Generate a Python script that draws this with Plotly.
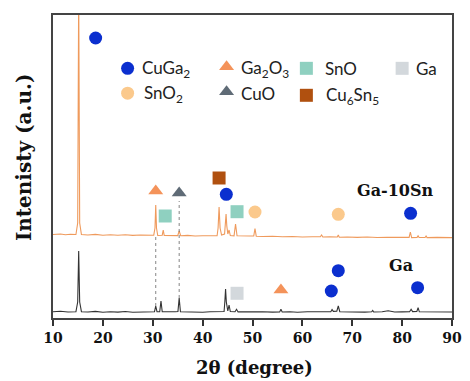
import plotly.graph_objects as go

# ---------------- data ----------------
# Ga-10Sn pattern (orange), 2theta (deg) and intensity (a.u.)
ga10sn_x = [10.0, 11.5, 12.5, 13.5, 14.6, 14.95, 15.15, 15.35, 15.7, 17, 18.5, 20, 21.5, 23, 24.5, 26,
            27.5, 29, 30.2, 30.45, 30.6, 30.75, 31.0, 31.9, 32.1, 32.3, 33.5, 35.0, 35.3, 35.6, 37,
            38.5, 40, 41.5, 42.9, 43.1, 43.3, 43.5, 43.8, 44.4, 44.55, 44.7, 44.85, 45.05, 45.3, 45.55,
            46.3, 46.6, 46.9, 48, 49.5, 50.25, 50.5, 50.75, 52, 54, 56, 58, 60, 62, 63.6, 63.85, 64.1,
            65.5, 67.0, 67.2, 67.4, 69, 71, 73, 75, 77, 79, 81.4, 81.65, 81.9, 83.0, 83.2, 83.4, 84.6,
            84.8, 85.0, 87, 90]
ga10sn_y = [83.5, 84.0, 83.2, 83.8, 83.5, 95, 330, 95, 83.5, 83.0, 83.6, 82.8, 83.3, 82.7, 83.2, 82.6,
            83.0, 82.5, 82.8, 90, 113, 90, 82.5, 82.8, 88, 82.6, 82.5, 82.4, 87, 82.3, 82.6,
            82.0, 82.3, 82.0, 82.3, 90, 111, 90, 83, 84, 92, 104, 92, 84, 88, 82.5,
            82.2, 94, 82.2, 81.8, 82.0, 82.0, 89.5, 81.8, 81.5, 81.8, 81.2, 81.5, 81.0, 81.3, 81.2, 83, 81.0,
            81.2, 81.0, 83, 80.8, 81.0, 80.6, 81.0, 80.5, 80.8, 80.4, 80.6, 86, 80.4, 80.6, 82.2, 80.5, 80.5,
            82, 80.4, 80.6, 80.4]

# Ga pattern (black)
ga_x = [10, 11.5, 13, 14.6, 14.95, 15.15, 15.35, 15.7, 17, 18.5, 20, 21.5, 23, 24.5, 26, 27.5, 29,
        30.35, 30.6, 30.85, 31.4, 31.65, 31.9, 33, 34.5, 35.05, 35.3, 35.55, 37, 38.5, 40, 41.5, 43,
        44.3, 44.45, 44.6, 44.75, 45.05, 45.3, 45.55, 46.5, 46.8, 47.1, 48.5, 50, 52, 54, 55.45, 55.7,
        55.95, 57.5, 59, 61, 63, 64.5, 65.7, 65.95, 66.2, 66.9, 67.2, 67.5, 69, 71, 72.5, 73.9, 74.1,
        74.3, 76, 77.2, 78.5, 80, 81.5, 81.8, 82.1, 82.95, 83.2, 83.45, 85, 87, 90]
ga_y = [6.2, 6.8, 6.0, 6.3, 16, 67, 16, 6.3, 6.0, 6.6, 5.8, 6.3, 5.9, 6.5, 5.8, 6.2, 6.0,
        6.3, 12, 6.3, 6.4, 17, 6.3, 6.0, 6.2, 6.5, 20, 6.3, 6.0, 6.4, 5.8, 6.2, 6.0,
        6.5, 16, 29, 16, 7.0, 13, 6.5, 6.2, 8.7, 6.1, 6.3, 5.8, 6.2, 5.9, 6.1, 8.7,
        6.0, 6.2, 5.8, 6.2, 5.9, 6.3, 6.2, 8.5, 6.6, 6.8, 12, 6.3, 6.0, 6.3, 5.9, 6.2, 7.6,
        6.0, 6.2, 7.3, 6.0, 6.1, 6.3, 8.7, 6.4, 6.6, 10.3, 6.2, 6.0, 6.2, 6.0]

# phases: name, colour, symbol
phase_names = ["CuGa<sub>2</sub>", "Ga<sub>2</sub>O<sub>3</sub>", "SnO", "Ga",
               "SnO<sub>2</sub>", "CuO", "Cu<sub>6</sub>Sn<sub>5</sub>"]
phase_keys = ["CuGa2", "Ga2O3", "SnO", "Ga", "SnO2", "CuO", "Cu6Sn5"]
phase_colors = ["#0b2fcf", "#f4935a", "#8fd0c0", "#d3d8dc", "#fbc98c", "#5f6b76", "#b0500f"]
phase_symbols = ["circle", "triangle-up", "square", "square", "circle", "triangle-up", "square"]

# peak identification markers: phase, 2theta, level
mark_phase = ["CuGa2", "Ga2O3", "CuO", "SnO", "Cu6Sn5", "CuGa2", "SnO", "SnO2", "SnO2", "CuGa2",
              "Ga", "Ga2O3", "CuGa2", "CuGa2", "CuGa2"]
mark_theta = [18.55, 30.6, 35.3, 32.5, 43.3, 44.75, 46.9, 50.5, 67.2, 81.7,
              46.9, 55.7, 65.8, 67.2, 83.1]
mark_level = [280, 127, 125, 102, 140, 123.7, 106.3, 106, 103.7, 104.7,
              24.7, 28, 27, 47.3, 30.3]

# dashed guide lines: 2theta, from, to
guide_theta = [30.6, 35.3]
guide_from = [12, 20]
guide_to = [81, 117]

# sample labels
sample_labels = ["Ga-10Sn", "Ga"]
sample_theta = [78.6, 79.8]
sample_level = [127.7, 53]

x_ticks = [10, 20, 30, 40, 50, 60, 70, 80, 90]

# ---------------- figure ----------------
SERIF = "DejaVu Serif"
fig = go.Figure()

fig.add_trace(go.Scatter(x=ga10sn_x, y=ga10sn_y, mode="lines",
                         line=dict(color="#ef9a5c", width=1.1), showlegend=False, hoverinfo="skip"))
fig.add_trace(go.Scatter(x=ga_x, y=ga_y, mode="lines",
                         line=dict(color="#333333", width=1.1), showlegend=False, hoverinfo="skip"))

for t, a, b in zip(guide_theta, guide_from, guide_to):
    fig.add_shape(type="line", xref="x", yref="y", x0=t, x1=t, y0=a, y1=b,
                  line=dict(color="#666666", width=0.8, dash="dot"))

lookup = {k: (c, s) for k, c, s in zip(phase_keys, phase_colors, phase_symbols)}
for key in phase_keys:
    xs = [t for p, t in zip(mark_phase, mark_theta) if p == key]
    ys = [l for p, l in zip(mark_phase, mark_level) if p == key]
    c, s = lookup[key]
    fig.add_trace(go.Scatter(x=xs, y=ys, mode="markers",
                             marker=dict(color=c, symbol=s, size=13, line=dict(width=0)),
                             showlegend=False, hoverinfo="skip", cliponaxis=False))

for lab, t, l in zip(sample_labels, sample_theta, sample_level):
    fig.add_annotation(x=t, y=l, xref="x", yref="y", text=lab, showarrow=False,
                       font=dict(family=SERIF, size=16, color="#111111", weight="bold"),
                       xanchor="center", yanchor="middle")

# custom legend (positions in paper fractions of the plot area)
leg_sym_x = [0.187, 0.435, 0.635, 0.875, 0.187, 0.435, 0.635]
leg_sym_y = [0.824, 0.829, 0.824, 0.824, 0.742, 0.747, 0.735]
leg_txt_x = [0.217, 0.467, 0.677, 0.905, 0.222, 0.467, 0.680]
leg_txt_y = [0.822, 0.822, 0.822, 0.822, 0.740, 0.740, 0.732]
fig.add_trace(go.Scatter(x=leg_sym_x, y=leg_sym_y, xaxis="x2", yaxis="y2", mode="markers",
                         marker=dict(color=phase_colors, symbol=phase_symbols, size=13, line=dict(width=0)),
                         showlegend=False, hoverinfo="skip"))
for name, x, y in zip(phase_names, leg_txt_x, leg_txt_y):
    fig.add_annotation(x=x, y=y, xref="paper", yref="paper", text=name, showarrow=False,
                       font=dict(family="Lato", size=17, color="#222222"),
                       xanchor="left", yanchor="middle")

fig.add_annotation(x=0.504, y=-0.165, xref="paper", yref="paper", text="2θ (degree)", showarrow=False,
                   font=dict(family=SERIF, size=18, color="#111111", weight="bold"),
                   xanchor="center", yanchor="middle")
fig.add_annotation(x=-0.071, y=0.53, xref="paper", yref="paper", text="Intenisty (a.u.)", showarrow=False,
                   textangle=-90, font=dict(family=SERIF, size=20, color="#111111", weight="bold"),
                   xanchor="center", yanchor="middle")

fig.update_layout(
    width=470, height=381,
    margin=dict(l=53, r=8, t=15, b=63),
    paper_bgcolor="white", plot_bgcolor="white",
    xaxis=dict(range=[10, 90], tickvals=x_ticks, ticks="outside", ticklen=6, tickwidth=1.5,
               tickcolor="#333333", showline=True, linecolor="#444444", linewidth=1.5, mirror=True,
               showgrid=False, zeroline=False,
               tickfont=dict(family=SERIF, size=14, color="#111111", weight="bold")),
    yaxis=dict(range=[0, 303], showticklabels=False, ticks="", showline=True, linecolor="#444444",
               linewidth=1.5, mirror=True, showgrid=False, zeroline=False),
    xaxis2=dict(range=[0, 1], overlaying="x", visible=False),
    yaxis2=dict(range=[0, 1], overlaying="y", visible=False),
)

fig.write_html("out.html")
